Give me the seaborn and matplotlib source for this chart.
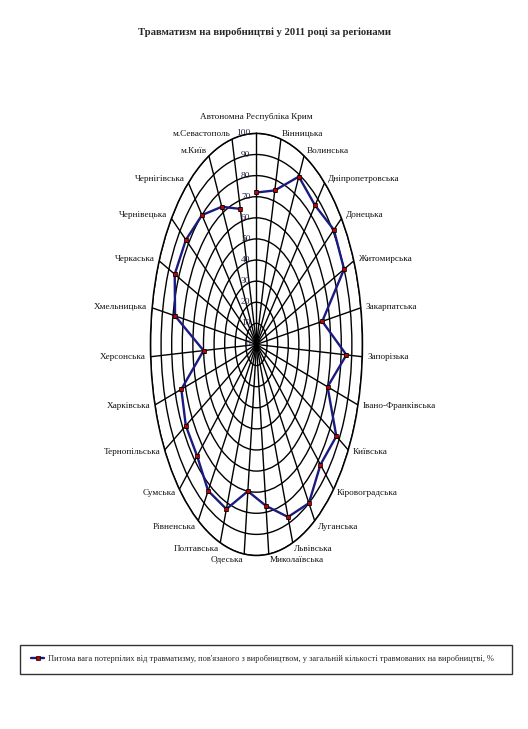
import numpy as np
import pandas as pd
import matplotlib
matplotlib.use('Agg')
import matplotlib.pyplot as plt
import seaborn as sns

# regions (clockwise from the top) and share of victims, %
regions = ['Автономна Республіка Крим', 'Вінницька', 'Волинська', 'Дніпропетровська',
           'Донецька', 'Житомирська', 'Закарпатська', 'Запорізька', 'Івано-Франківська',
           'Київська', 'Кіровоградська', 'Луганська', 'Львівська', 'Миколаївська',
           'Одеська', 'Полтавська', 'Рівненська', 'Сумська', 'Тернопільська',
           'Харківська', 'Херсонська', 'Хмельницька', 'Черкаська', 'Чернівецька',
           'Чернігівська', 'м.Київ', 'м.Севастополь']
values = [72, 75, 89, 86, 91, 90, 63, 85, 70, 87, 83, 90, 87, 77, 70, 83, 83, 77, 77,
          74, 50, 78, 84, 83, 80, 73, 66]
ring_ticks = [0, 10, 20, 30, 40, 50, 60, 70, 80, 90, 100]

series_name = ("Питома вага потерпілих від травматизму, пов'язаного з виробництвом, "
               "у загальній кількості травмованих на виробництві, %")

sns.set_style('white')
plt.rcParams['font.family'] = ['Liberation Serif', 'DejaVu Serif']

n = len(regions)
theta = np.arange(n) * 2 * np.pi / n
df = pd.DataFrame({'theta': theta, 'value': values})
df = pd.concat([df, df.iloc[[0]]], ignore_index=True)  # close the polygon

fig = plt.figure(figsize=(5.28, 7.29), dpi=100)
ax = fig.add_axes([0.285, 0.238, 0.4015, 0.579], projection='polar')
ax.set_aspect('auto')
ax.set_theta_zero_location('N')
ax.set_theta_direction(-1)

sns.lineplot(data=df, x='theta', y='value', sort=False, ax=ax, color='#1a1a80',
             linewidth=1.7, marker='s', markersize=3.5, markerfacecolor='#c00000',
             markeredgecolor='black', markeredgewidth=0.5, label=series_name)

ax.set_ylim(0, 100)
ax.set_xticks(theta)
ax.set_xticklabels([])
ax.set_yticks(ring_ticks)
ax.set_yticklabels([])
ax.grid(True, color='black', linewidth=1.0)
ax.spines['polar'].set_color('black')
ax.spines['polar'].set_linewidth(1.1)
ax.set_xlabel('')
ax.set_ylabel('')
ax.get_legend().remove()

# ring labels along the top spoke
for v in ring_ticks:
    ax.annotate(str(v), xy=(0, v), xytext=(-6, 0), textcoords='offset pixels',
                ha='right', va='center', fontsize=6.8, color='#222244')

# category labels around the outer ring
for t, name in zip(theta, regions):
    a = np.degrees(t)
    dx, dy = 5 * np.sin(t), 5 * np.cos(t)
    if a < 1:
        ha, va, dy = 'center', 'bottom', 12
    elif a < 180:
        ha, va = 'left', 'center'
    else:
        ha, va = 'right', 'center'
    if 140 < a < 220:
        va = 'top'
        dy = -2
    ax.annotate(name, xy=(t, 100), xytext=(dx, dy), textcoords='offset pixels',
                ha=ha, va=va, fontsize=6.6, color='#111111', annotation_clip=False)

fig.suptitle('Травматизм на виробництві у 2011 році за регіонами', x=0.5, y=0.962,
             fontsize=7.7, fontweight='bold')

handles, labels = ax.get_legend_handles_labels()
leg = fig.legend(handles, labels, loc='center', mode='expand',
                 bbox_to_anchor=(0.038, 0.0955, 0.932, 0.0), fontsize=6.0,
                 frameon=True, fancybox=False, edgecolor='black', handlelength=1.6,
                 handletextpad=0.4, borderaxespad=0, borderpad=1.3)
leg.get_frame().set_linewidth(1.0)

fig.savefig('out.png', dpi=100)
